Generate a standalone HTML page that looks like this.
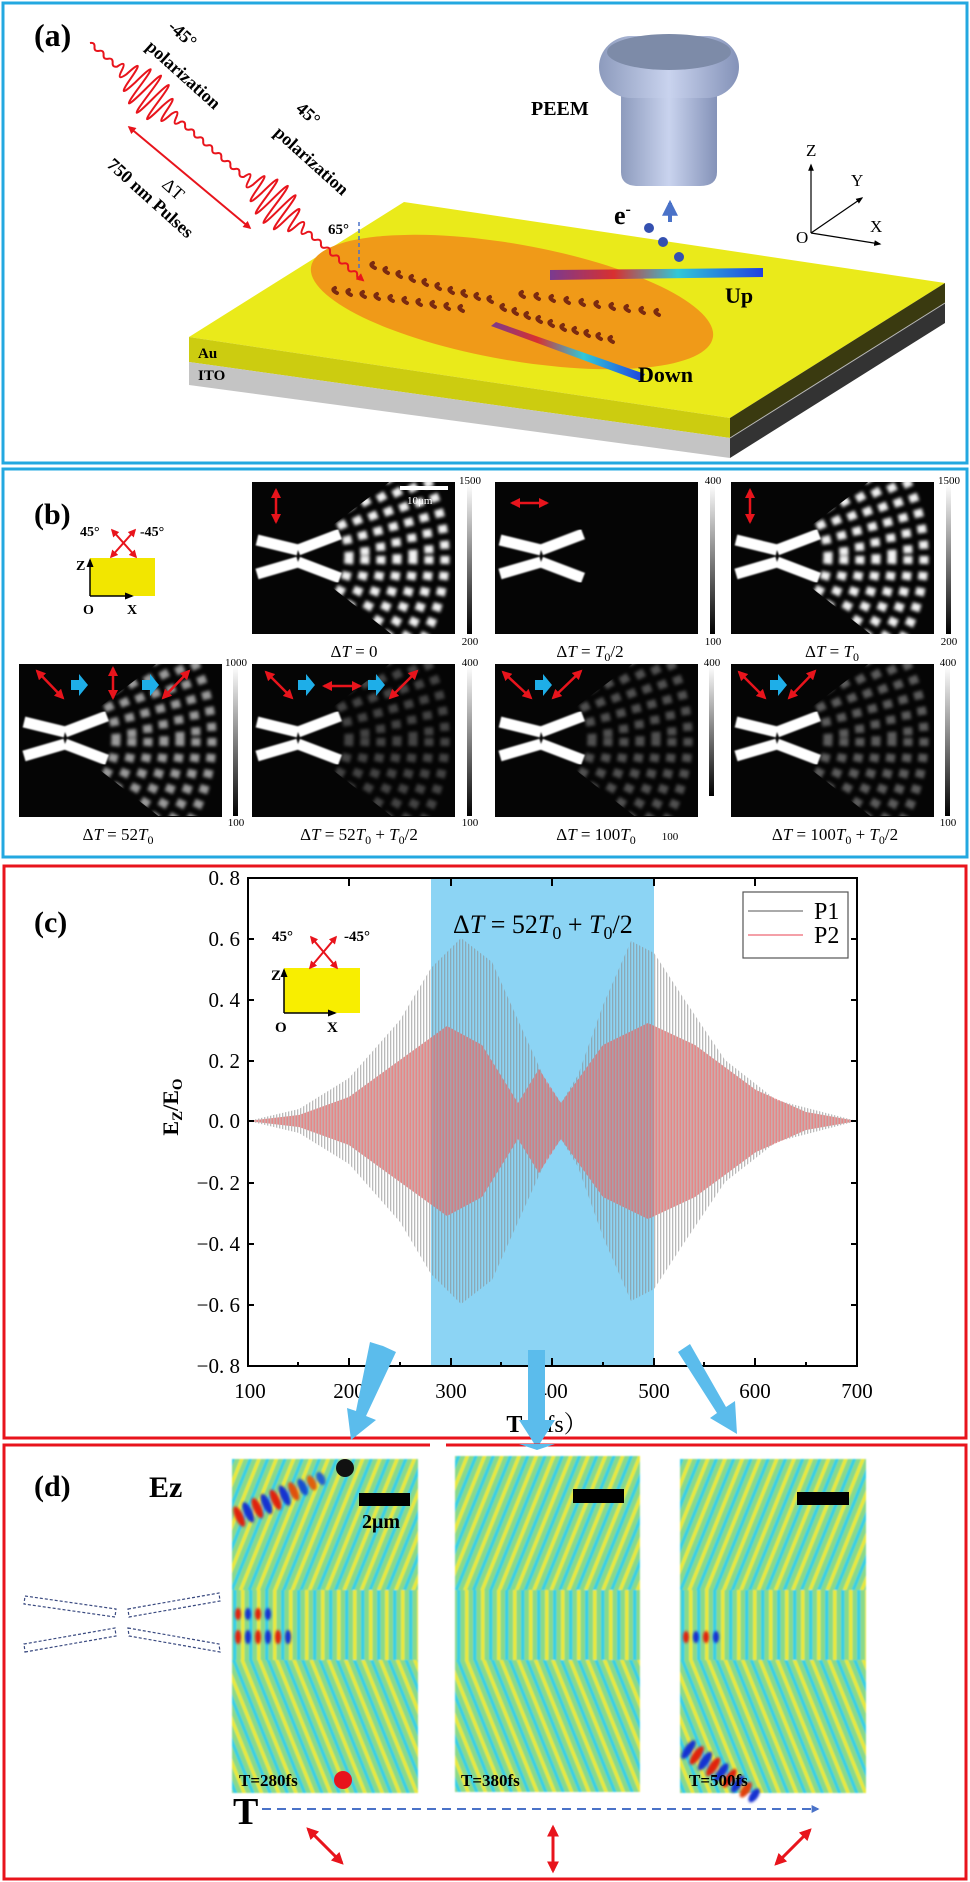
<!DOCTYPE html>
<html><head><meta charset="utf-8"><style>
html,body{margin:0;padding:0;background:#fff;}
svg{display:block;}
</style></head><body>
<svg width="970" height="1882" viewBox="0 0 970 1882" xmlns="http://www.w3.org/2000/svg" font-family="Liberation Serif, serif">
<defs>
<marker id="ra" viewBox="0 0 10 10" refX="8" refY="5" markerWidth="4" markerHeight="4" orient="auto-start-reverse"><path d="M0,0 L10,5 L0,10 z" fill="#e8141c"/></marker>
<marker id="ba" viewBox="0 0 10 10" refX="8" refY="5" markerWidth="4" markerHeight="4" orient="auto"><path d="M0,0 L10,5 L0,10 z" fill="#4a72c8"/></marker>
<marker id="ka" viewBox="0 0 10 10" refX="8" refY="5" markerWidth="6" markerHeight="6" orient="auto"><path d="M0,1 L10,5 L0,9 z" fill="#000"/></marker>
<linearGradient id="cb" x1="0" y1="0" x2="0" y2="1"><stop offset="0" stop-color="#fff"/><stop offset="1" stop-color="#000"/></linearGradient>
<linearGradient id="peem" x1="0" y1="0" x2="1" y2="0"><stop offset="0" stop-color="#8d9bbd"/><stop offset="0.5" stop-color="#c9d3ee"/><stop offset="1" stop-color="#8492b8"/></linearGradient>
<linearGradient id="rod" x1="0" y1="0" x2="1" y2="0"><stop offset="0" stop-color="#7a3a90"/><stop offset="0.3" stop-color="#d83030"/><stop offset="0.6" stop-color="#30c8d8"/><stop offset="1" stop-color="#2040e0"/></linearGradient>
<filter id="bl" x="-20%" y="-20%" width="140%" height="140%"><feGaussianBlur stdDeviation="1.6"/></filter>
<filter id="bl2"><feGaussianBlur stdDeviation="0.8"/></filter>
<filter id="bl3"><feGaussianBlur stdDeviation="1.2"/></filter>
<clipPath id="wedge"><polygon points="40,74 203,-50 203,202"/></clipPath>
<clipPath id="imgc"><rect x="0" y="0" width="203" height="152"/></clipPath>
<g id="bars">
<g stroke="#fff" stroke-width="11" filter="url(#bl2)">
<line x1="5" y1="58" x2="46" y2="68"/><line x1="46" y1="68" x2="88" y2="52"/>
<line x1="5" y1="92" x2="46" y2="80"/><line x1="46" y1="80" x2="88" y2="96"/>
</g></g>
<g id="arcs">
<g clip-path="url(#wedge)" fill="none" stroke="#fff" stroke-width="9" stroke-dasharray="8 8" filter="url(#bl)">
<circle cx="25" cy="74" r="72"/><circle cx="25" cy="74" r="88"/><circle cx="25" cy="74" r="104"/><circle cx="25" cy="74" r="120"/><circle cx="25" cy="74" r="136"/><circle cx="25" cy="74" r="152"/><circle cx="25" cy="74" r="168"/>
</g></g>
<pattern id="pg" width="3" height="10" patternUnits="userSpaceOnUse"><rect width="1.3" height="10" fill="#8c8c8c"/></pattern>
<pattern id="pp" width="3" height="10" patternUnits="userSpaceOnUse"><rect x="1.5" width="1.3" height="10" fill="#d85858"/></pattern>
<pattern id="fu" width="16" height="40" patternUnits="userSpaceOnUse" patternTransform="rotate(22)"><rect width="16" height="40" fill="#8ad98a"/><rect x="1" width="3.5" height="40" fill="#e8e83c"/><rect x="9" width="3.5" height="40" fill="#38d0e4"/></pattern>
<pattern id="fm" width="16" height="40" patternUnits="userSpaceOnUse"><rect width="16" height="40" fill="#8ad98a"/><rect x="1" width="3.5" height="40" fill="#e8e83c"/><rect x="9" width="3.5" height="40" fill="#38d0e4"/></pattern>
<pattern id="fd" width="16" height="40" patternUnits="userSpaceOnUse" patternTransform="rotate(-22)"><rect width="16" height="40" fill="#8ad98a"/><rect x="1" width="3.5" height="40" fill="#e8e83c"/><rect x="9" width="3.5" height="40" fill="#38d0e4"/></pattern>
</defs>

<!-- ================= PANEL A ================= -->
<rect x="3" y="3" width="964" height="460" fill="#fff" stroke="#23a8e0" stroke-width="3"/>
<text x="34" y="46" font-size="32" font-weight="bold">(a)</text>
<polygon points="404,202 945,283 730,418 189,337" fill="#eaea1a"/>
<polygon points="189,337 730,418 730,438 189,362" fill="#cccc10"/>
<polygon points="189,362 730,438 730,458 189,385" fill="#c4c4c4"/>
<polygon points="730,418 945,283 945,303 730,438" fill="#3a3a10"/>
<polygon points="730,438 945,303 945,323 730,458" fill="#333"/>
<line x1="730" y1="438" x2="945" y2="303" stroke="#bbb" stroke-width="1"/>
<text x="198" y="358" font-size="15" font-weight="bold">Au</text>
<text x="198" y="380" font-size="15" font-weight="bold">ITO</text>
<ellipse cx="512" cy="302" rx="204" ry="58" fill="#f09a18" transform="rotate(10 512 302)"/>
<g fill="none" stroke="#7a2a10" stroke-width="4" stroke-linecap="round">
<path d="M373,263 q-4,2 2,5 M386,268 q-4,2 2,5 M399,272 q-4,2 2,5 M412,276 q-4,2 2,5 M425,280 q-4,2 2,5 M438,284 q-4,2 2,5 M451,288 q-4,2 2,5 M464,291 q-4,2 2,5 M477,294 q-4,2 2,5 M490,297 q-4,2 2,5"/>
<path d="M335,288 q-4,2 2,5 M349,290 q-4,2 2,5 M363,292 q-4,2 2,5 M377,294 q-4,2 2,5 M391,296 q-4,2 2,5 M405,298 q-4,2 2,5 M419,300 q-4,2 2,5 M433,302 q-4,2 2,5 M447,304 q-4,2 2,5 M461,306 q-4,2 2,5"/>
<path d="M522,292 q-4,2 2,5 M537,294 q-4,2 2,5 M552,296 q-4,2 2,5 M567,298 q-4,2 2,5 M582,300 q-4,2 2,5 M597,302 q-4,2 2,5 M612,304 q-4,2 2,5 M627,306 q-4,2 2,5 M642,308 q-4,2 2,5 M657,310 q-4,2 2,5"/>
<path d="M503,305 q-4,2 2,5 M515,309 q-4,2 2,5 M527,313 q-4,2 2,5 M539,317 q-4,2 2,5 M551,321 q-4,2 2,5 M563,325 q-4,2 2,5 M575,328 q-4,2 2,5 M587,331 q-4,2 2,5 M599,334 q-4,2 2,5 M611,337 q-4,2 2,5"/>
</g>
<polygon points="550,270 763,268 763,277 550,280" fill="url(#rod)"/>
<polygon points="491,326 496,322 645,374 640,381" fill="url(#rod)"/>
<text x="725" y="303" font-size="22" font-weight="bold">Up</text>
<text x="638" y="382" font-size="22" font-weight="bold">Down</text>
<path d="M621,92 L717,92 L717,172 Q717,186 700,186 L638,186 Q621,186 621,172 Z" fill="url(#peem)"/>
<rect x="599" y="36" width="140" height="62" rx="32" fill="url(#peem)"/>
<ellipse cx="669" cy="52" rx="62" ry="18" fill="#7d8ba8"/>
<text x="531" y="115" font-size="20" font-weight="bold">PEEM</text>
<text x="614" y="224" font-size="26" font-weight="bold">e<tspan dy="-10" font-size="16">-</tspan></text>
<circle cx="649" cy="228" r="5" fill="#3450b0"/><circle cx="663" cy="242" r="5" fill="#3450b0"/><circle cx="679" cy="257" r="5" fill="#3450b0"/>
<line x1="670" y1="222" x2="670" y2="203" stroke="#4a72c8" stroke-width="4" marker-end="url(#ba)"/>
<g stroke="#000" stroke-width="1.2">
<line x1="811" y1="233" x2="811" y2="165" marker-end="url(#ka)"/>
<line x1="811" y1="233" x2="862" y2="198" marker-end="url(#ka)"/>
<line x1="811" y1="233" x2="880" y2="244" marker-end="url(#ka)"/>
</g>
<text x="806" y="156" font-size="17">Z</text><text x="851" y="186" font-size="17">Y</text><text x="870" y="232" font-size="17">X</text><text x="796" y="243" font-size="17">O</text>
<g transform="translate(90,43) rotate(41)">
<path fill="none" stroke="#e8141c" stroke-width="2" d="M0,0 q3,-4 6,0 q3,4 6,0 q3,-4 6,0 q3,4 6,0 q3,-4 6,0 q3,4 6,0 q3,-12 6,0 q3,12 6,0 q3,-28 6,0 q3,28 6,0 q3,-40 6,0 q3,40 6,0 q3,-44 6,0 q3,44 6,0 q3,-40 6,0 q3,40 6,0 q3,-24 6,0 q3,24 6,0 q3,-10 6,0 q3,10 6,0 q3,-4 6,0 q3,4 6,0 q3,-4 6,0 q3,4 6,0 q3,-4 6,0 q3,4 6,0 q3,-4 6,0 q3,4 6,0 q3,-4 6,0 q3,4 6,0 q3,-4 6,0 q3,4 6,0 q3,-4 6,0 q3,4 6,0 q3,-12 6,0 q3,12 6,0 q3,-28 6,0 q3,28 6,0 q3,-40 6,0 q3,40 6,0 q3,-44 6,0 q3,44 6,0 q3,-40 6,0 q3,40 6,0 q3,-24 6,0 q3,24 6,0 q3,-10 6,0 q3,10 6,0 q3,-4 6,0 q3,4 6,0 q3,-4 6,0 q3,4 6,0 q3,-4 6,0 q3,4 6,0 q3,-4 6,0 q3,4 6,0 q3,-4 6,0 q3,4 6,0 q3,-4 6,0 q3,4 6,0 L362,0" marker-end="url(#ra)"/>
</g>
<line x1="129" y1="127" x2="250" y2="228" stroke="#e8141c" stroke-width="2" marker-start="url(#ra)" marker-end="url(#ra)"/>
<g font-size="18" font-weight="bold">
<text transform="translate(167,28) rotate(42)">-45°</text>
<text transform="translate(145,48) rotate(42)">polarization</text>
<text transform="translate(295,110) rotate(42)">45°</text>
<text transform="translate(273,134) rotate(42)">polarization</text>
<text transform="translate(161,186) rotate(42)" font-weight="normal">ΔT</text>
<text transform="translate(106,166) rotate(42)">750 nm Pulses</text>
</g>
<text x="328" y="234" font-size="15" font-weight="bold">65°</text>
<line x1="359" y1="222" x2="359" y2="268" stroke="#4a72c8" stroke-width="1.5" stroke-dasharray="4 3"/>

<!-- ================= PANEL B ================= -->
<rect x="3" y="469" width="964" height="388" fill="#fff" stroke="#23a8e0" stroke-width="3"/>
<text x="34" y="524" font-size="30" font-weight="bold">(b)</text>
<rect x="90" y="558" width="65" height="38" fill="#f2e600"/>
<line x1="90" y1="596" x2="90" y2="560" stroke="#000" stroke-width="1.5" marker-end="url(#ka)"/>
<line x1="90" y1="596" x2="132" y2="596" stroke="#000" stroke-width="1.5" marker-end="url(#ka)"/>
<text x="76" y="570" font-size="14" font-weight="bold">Z</text><text x="83" y="614" font-size="14" font-weight="bold">O</text><text x="127" y="614" font-size="14" font-weight="bold">X</text>
<line x1="111" y1="557" x2="135" y2="530" stroke="#e8141c" stroke-width="2" marker-start="url(#ra)" marker-end="url(#ra)"/>
<line x1="136" y1="557" x2="112" y2="530" stroke="#e8141c" stroke-width="2" marker-start="url(#ra)" marker-end="url(#ra)"/>
<text x="80" y="536" font-size="14" font-weight="bold">45°</text><text x="140" y="536" font-size="14" font-weight="bold">-45°</text>

<g transform="translate(252,482)"><rect width="203" height="152" fill="#050505"/><g clip-path="url(#imgc)"><use href="#arcs" opacity="0.95"/><use href="#bars"/></g></g>
<g transform="translate(495,482)"><rect width="203" height="152" fill="#050505"/><g clip-path="url(#imgc)"><use href="#bars"/></g></g>
<g transform="translate(731,482)"><rect width="203" height="152" fill="#050505"/><g clip-path="url(#imgc)"><use href="#arcs" opacity="0.95"/><use href="#bars"/></g></g>
<g transform="translate(19,664)"><rect width="203" height="153" fill="#050505"/><g clip-path="url(#imgc)"><use href="#arcs" opacity="0.6"/><use href="#bars"/></g></g>
<g transform="translate(252,664)"><rect width="203" height="153" fill="#050505"/><g clip-path="url(#imgc)"><use href="#arcs" opacity="0.25"/><use href="#bars"/></g></g>
<g transform="translate(495,664)"><rect width="203" height="153" fill="#050505"/><g clip-path="url(#imgc)"><use href="#arcs" opacity="0.3"/><use href="#bars"/></g></g>
<g transform="translate(731,664)"><rect width="203" height="153" fill="#050505"/><g clip-path="url(#imgc)"><use href="#arcs" opacity="0.35"/><use href="#bars"/></g></g>
<g fill="url(#cb)">
<rect x="467" y="484" width="5" height="150"/><rect x="710" y="484" width="5" height="150"/><rect x="946" y="484" width="5" height="150"/>
<rect x="233" y="666" width="5" height="150"/><rect x="467" y="666" width="5" height="150"/><rect x="709" y="666" width="5" height="130"/><rect x="945" y="666" width="5" height="150"/>
</g>
<g font-size="11" text-anchor="middle">
<text x="470" y="484">1500</text><text x="470" y="645">200</text>
<text x="713" y="484">400</text><text x="713" y="645">100</text>
<text x="949" y="484">1500</text><text x="949" y="645">200</text>
<text x="236" y="666">1000</text><text x="236" y="826">100</text>
<text x="470" y="666">400</text><text x="470" y="826">100</text>
<text x="712" y="666">400</text>
<text x="948" y="666">400</text><text x="948" y="826">100</text>
<text x="670" y="840">100</text>
</g>
<rect x="400" y="486" width="48" height="4" fill="#fff"/>
<text x="407" y="504" font-size="11" fill="#fff">10μm</text>
<g stroke="#e8141c" stroke-width="2.5" fill="none">
<line x1="276" y1="490" x2="276" y2="522" marker-start="url(#ra)" marker-end="url(#ra)"/>
<line x1="512" y1="503" x2="547" y2="503" marker-start="url(#ra)" marker-end="url(#ra)"/>
<line x1="750" y1="490" x2="750" y2="522" marker-start="url(#ra)" marker-end="url(#ra)"/>
<line x1="37" y1="671" x2="63" y2="698" marker-start="url(#ra)" marker-end="url(#ra)"/>
<line x1="113" y1="668" x2="113" y2="698" marker-start="url(#ra)" marker-end="url(#ra)"/>
<line x1="163" y1="698" x2="189" y2="671" marker-start="url(#ra)" marker-end="url(#ra)"/>
<line x1="266" y1="672" x2="292" y2="698" marker-start="url(#ra)" marker-end="url(#ra)"/>
<line x1="324" y1="686" x2="360" y2="686" marker-start="url(#ra)" marker-end="url(#ra)"/>
<line x1="390" y1="698" x2="417" y2="671" marker-start="url(#ra)" marker-end="url(#ra)"/>
<line x1="503" y1="672" x2="531" y2="698" marker-start="url(#ra)" marker-end="url(#ra)"/>
<line x1="553" y1="698" x2="581" y2="671" marker-start="url(#ra)" marker-end="url(#ra)"/>
<line x1="739" y1="672" x2="765" y2="698" marker-start="url(#ra)" marker-end="url(#ra)"/>
<line x1="789" y1="698" x2="815" y2="671" marker-start="url(#ra)" marker-end="url(#ra)"/>
</g>
<g fill="#1eaee8">
<path d="M71,680 h8 v-6 l9,11 l-9,11 v-6 h-8 z"/>
<path d="M142,680 h8 v-6 l9,11 l-9,11 v-6 h-8 z"/>
<path d="M298,680 h8 v-6 l9,11 l-9,11 v-6 h-8 z"/>
<path d="M368,680 h8 v-6 l9,11 l-9,11 v-6 h-8 z"/>
<path d="M535,680 h8 v-6 l9,11 l-9,11 v-6 h-8 z"/>
<path d="M770,680 h8 v-6 l9,11 l-9,11 v-6 h-8 z"/>
</g>
<g font-size="17" text-anchor="middle">
<text x="354" y="657">Δ<tspan font-style="italic">T</tspan> = 0</text>
<text x="590" y="657">Δ<tspan font-style="italic">T</tspan> = <tspan font-style="italic">T</tspan><tspan font-size="12" dy="4">0</tspan><tspan dy="-4">/2</tspan></text>
<text x="832" y="657">Δ<tspan font-style="italic">T</tspan> = <tspan font-style="italic">T</tspan><tspan font-size="12" dy="4">0</tspan></text>
<text x="118" y="840">Δ<tspan font-style="italic">T</tspan> = 52<tspan font-style="italic">T</tspan><tspan font-size="12" dy="4">0</tspan></text>
<text x="359" y="840">Δ<tspan font-style="italic">T</tspan> = 52<tspan font-style="italic">T</tspan><tspan font-size="12" dy="4">0</tspan><tspan dy="-4"> + </tspan><tspan font-style="italic">T</tspan><tspan font-size="12" dy="4">0</tspan><tspan dy="-4">/2</tspan></text>
<text x="596" y="840">Δ<tspan font-style="italic">T</tspan> = 100<tspan font-style="italic">T</tspan><tspan font-size="12" dy="4">0</tspan></text>
<text x="835" y="840">Δ<tspan font-style="italic">T</tspan> = 100<tspan font-style="italic">T</tspan><tspan font-size="12" dy="4">0</tspan><tspan dy="-4"> + </tspan><tspan font-style="italic">T</tspan><tspan font-size="12" dy="4">0</tspan><tspan dy="-4">/2</tspan></text>
</g>

<!-- ================= PANEL C ================= -->
<rect x="4" y="866" width="962" height="572" fill="#fff" stroke="#e8141c" stroke-width="3"/>
<text x="34" y="932" font-size="30" font-weight="bold">(c)</text>
<rect x="431" y="878" width="223" height="488" fill="#8cd4f4"/>
<path d="M248,1121 L299,1109 L349,1078 L400,1020 L431,968 L461,938 L492,962 L522,1029 L547,1084 L561,1103 L578,1075 L603,1005 L631,941 L654,953 L684,999 L725,1060 L776,1100 L857,1121 L776,1142 L725,1182 L684,1243 L654,1289 L631,1301 L603,1237 L578,1167 L561,1139 L547,1158 L522,1213 L492,1280 L461,1304 L431,1274 L400,1222 L349,1164 L299,1133 Z" fill="url(#pg)" opacity="0.6"/>
<path d="M248,1121 L299,1115 L349,1097 L400,1060 L447,1026 L482,1045 L518,1103 L539,1069 L561,1103 L603,1045 L648,1023 L695,1045 L756,1090 L806,1112 L857,1121 L806,1130 L756,1152 L695,1197 L648,1219 L603,1197 L561,1139 L539,1173 L518,1139 L482,1197 L447,1216 L400,1182 L349,1145 L299,1127 Z" fill="url(#pp)" opacity="0.9"/>
<path d="M248,1121 L299,1115 L349,1097 L400,1060 L447,1026 L482,1045 L518,1103 L539,1069 L561,1103 L603,1045 L648,1023 L695,1045 L756,1090 L806,1112 L857,1121 L806,1130 L756,1152 L695,1197 L648,1219 L603,1197 L561,1139 L539,1173 L518,1139 L482,1197 L447,1216 L400,1182 L349,1145 L299,1127 Z" fill="#e89090" opacity="0.3"/>
<rect x="248" y="878" width="609" height="488" fill="none" stroke="#000" stroke-width="2"/>
<g stroke="#000" stroke-width="2">
<path d="M349,878v8 M451,878v8 M552,878v8 M654,878v8 M755,878v8 M349,1366v-8 M451,1366v-8 M552,1366v-8 M654,1366v-8 M755,1366v-8"/>
<path d="M298,1366v-4 M400,1366v-4 M501,1366v-4 M603,1366v-4 M704,1366v-4 M806,1366v-4"/>
<path d="M248,939h6 M248,1000h6 M248,1061h6 M248,1121h6 M248,1183h6 M248,1244h6 M248,1305h6 M857,939h-6 M857,1000h-6 M857,1061h-6 M857,1121h-6 M857,1183h-6 M857,1244h-6 M857,1305h-6"/>
</g>
<g font-size="21" text-anchor="end">
<text x="240" y="885">0. 8</text><text x="240" y="946">0. 6</text><text x="240" y="1007">0. 4</text><text x="240" y="1068">0. 2</text><text x="240" y="1128">0. 0</text><text x="240" y="1190">−0. 2</text><text x="240" y="1251">−0. 4</text><text x="240" y="1312">−0. 6</text><text x="240" y="1373">−0. 8</text>
</g>
<g font-size="21" text-anchor="middle">
<text x="250" y="1398">100</text><text x="349" y="1398">200</text><text x="451" y="1398">300</text><text x="552" y="1398">400</text><text x="654" y="1398">500</text><text x="755" y="1398">600</text><text x="857" y="1398">700</text>
</g>
<text x="547" y="1432" font-size="24" font-weight="bold" text-anchor="middle" font-family="Liberation Serif, Noto Serif CJK SC, serif">T<tspan font-weight="normal">（fs）</tspan></text>
<text transform="translate(178,1107) rotate(-90)" font-size="22" font-weight="bold" text-anchor="middle">E<tspan font-size="15" dy="4">Z</tspan><tspan dy="-4">/E</tspan><tspan font-size="15" dy="4">O</tspan></text>
<text x="453" y="933" font-size="26">Δ<tspan font-style="italic">T</tspan> = 52<tspan font-style="italic">T</tspan><tspan font-size="18" dy="6">0</tspan><tspan dy="-6"> + </tspan><tspan font-style="italic">T</tspan><tspan font-size="18" dy="6">0</tspan><tspan dy="-6">/2</tspan></text>
<rect x="743" y="892" width="105" height="66" fill="#fff" stroke="#555" stroke-width="1.2"/>
<line x1="748" y1="911" x2="803" y2="911" stroke="#aaa" stroke-width="2"/>
<line x1="748" y1="935" x2="803" y2="935" stroke="#f4a0a8" stroke-width="2"/>
<text x="814" y="919" font-size="24">P1</text><text x="814" y="943" font-size="24">P2</text>
<rect x="284" y="968" width="76" height="45" fill="#f8ee00"/>
<line x1="284" y1="1013" x2="284" y2="970" stroke="#000" stroke-width="1.5" marker-end="url(#ka)"/>
<line x1="284" y1="1013" x2="335" y2="1013" stroke="#000" stroke-width="1.5" marker-end="url(#ka)"/>
<text x="271" y="980" font-size="15" font-weight="bold">Z</text><text x="275" y="1032" font-size="15" font-weight="bold">O</text><text x="327" y="1032" font-size="15" font-weight="bold">X</text>
<line x1="310" y1="968" x2="336" y2="937" stroke="#e8141c" stroke-width="2" marker-start="url(#ra)" marker-end="url(#ra)"/>
<line x1="337" y1="968" x2="311" y2="937" stroke="#e8141c" stroke-width="2" marker-start="url(#ra)" marker-end="url(#ra)"/>
<text x="272" y="941" font-size="15" font-weight="bold">45°</text><text x="344" y="941" font-size="15" font-weight="bold">-45°</text>

<g fill="#5bbcec">
<polygon points="383,1346 396,1352 366,1416 376,1420 351,1440 347,1408 356,1411 370,1342"/>
<polygon points="528,1350 545,1350 545,1420 555,1420 537,1448 519,1420 528,1420"/>
<polygon points="678,1352 690,1344 726,1407 735,1401 737,1434 710,1418 717,1413"/>
</g>

<!-- ================= PANEL D ================= -->
<rect x="4" y="1445" width="962" height="434" fill="#fff" stroke="#e8141c" stroke-width="3"/>
<rect x="430" y="1443" width="16" height="5" fill="#fff"/>
<polygon points="519,1444 555,1444 537,1450" fill="#5bbcec"/>
<text x="34" y="1496" font-size="30" font-weight="bold">(d)</text>
<text x="149" y="1497" font-size="30" font-weight="bold">Ez</text>
<g filter="url(#bl2)">
<rect x="232" y="1459" width="186" height="131" fill="url(#fu)"/><rect x="232" y="1590" width="186" height="70" fill="url(#fm)"/><rect x="232" y="1660" width="186" height="133" fill="url(#fd)"/>
<rect x="455" y="1456" width="185" height="134" fill="url(#fu)"/><rect x="455" y="1590" width="185" height="70" fill="url(#fm)"/><rect x="455" y="1660" width="185" height="132" fill="url(#fd)"/>
<rect x="680" y="1459" width="186" height="131" fill="url(#fu)"/><rect x="680" y="1590" width="186" height="70" fill="url(#fm)"/><rect x="680" y="1660" width="186" height="133" fill="url(#fd)"/>
</g>
<g filter="url(#bl3)">
<g transform="translate(232,1520) rotate(-25)">
<ellipse cx="8" cy="0" rx="4" ry="11" fill="#e02010"/><ellipse cx="18" cy="0" rx="4" ry="11" fill="#1830d0"/><ellipse cx="28" cy="0" rx="4" ry="11" fill="#e02010"/><ellipse cx="38" cy="0" rx="4" ry="11" fill="#1830d0"/><ellipse cx="48" cy="0" rx="4" ry="11" fill="#e02010"/><ellipse cx="58" cy="0" rx="4" ry="11" fill="#1830d0"/><ellipse cx="68" cy="0" rx="4" ry="10" fill="#e05010"/><ellipse cx="78" cy="0" rx="4" ry="9" fill="#1850d0"/><ellipse cx="88" cy="0" rx="4" ry="8" fill="#e06010"/><ellipse cx="98" cy="0" rx="4" ry="7" fill="#2060d0"/>
</g>
<g transform="translate(682,1745) rotate(35)">
<ellipse cx="8" cy="0" rx="4" ry="11" fill="#1830d0"/><ellipse cx="18" cy="0" rx="4" ry="11" fill="#e02010"/><ellipse cx="28" cy="0" rx="4" ry="11" fill="#1830d0"/><ellipse cx="38" cy="0" rx="4" ry="11" fill="#e02010"/><ellipse cx="48" cy="0" rx="4" ry="11" fill="#1830d0"/><ellipse cx="58" cy="0" rx="4" ry="11" fill="#e02010"/><ellipse cx="68" cy="0" rx="4" ry="10" fill="#1830d0"/><ellipse cx="78" cy="0" rx="4" ry="9" fill="#e04010"/><ellipse cx="88" cy="0" rx="4" ry="8" fill="#1830d0"/>
</g>
<g>
<ellipse cx="238" cy="1614" rx="3" ry="6" fill="#e02010"/><ellipse cx="248" cy="1614" rx="3" ry="6" fill="#1830d0"/><ellipse cx="258" cy="1614" rx="3" ry="6" fill="#e02010"/><ellipse cx="268" cy="1614" rx="3" ry="6" fill="#1830d0"/>
<ellipse cx="238" cy="1637" rx="3" ry="7" fill="#e02010"/><ellipse cx="248" cy="1637" rx="3" ry="7" fill="#1830d0"/><ellipse cx="258" cy="1637" rx="3" ry="7" fill="#e02010"/><ellipse cx="268" cy="1637" rx="3" ry="7" fill="#1830d0"/><ellipse cx="278" cy="1637" rx="3" ry="7" fill="#e02010"/><ellipse cx="288" cy="1637" rx="3" ry="7" fill="#1830d0"/>
<ellipse cx="686" cy="1637" rx="3" ry="6" fill="#e02010"/><ellipse cx="696" cy="1637" rx="3" ry="6" fill="#1830d0"/><ellipse cx="706" cy="1637" rx="3" ry="6" fill="#e02010"/><ellipse cx="716" cy="1637" rx="3" ry="6" fill="#1830d0"/>
</g>
</g>
<rect x="359" y="1493" width="51" height="13" fill="#000"/>
<rect x="573" y="1489" width="51" height="14" fill="#000"/>
<rect x="797" y="1492" width="52" height="13" fill="#000"/>
<text x="362" y="1528" font-size="20" font-weight="bold">2μm</text>
<circle cx="345" cy="1468" r="9" fill="#111"/>
<circle cx="343" cy="1780" r="9" fill="#e8141c"/>
<g font-size="17" font-weight="bold">
<text x="239" y="1786">T=280fs</text><text x="461" y="1786">T=380fs</text><text x="689" y="1786">T=500fs</text>
</g>
<text x="233" y="1824" font-size="38" font-weight="bold">T</text>
<line x1="262" y1="1809" x2="818" y2="1809" stroke="#4a72c8" stroke-width="2" stroke-dasharray="9 6" marker-end="url(#ba)"/>
<g stroke="#e8141c" stroke-width="3">
<line x1="308" y1="1829" x2="342" y2="1863" marker-start="url(#ra)" marker-end="url(#ra)"/>
<line x1="553" y1="1827" x2="553" y2="1871" marker-start="url(#ra)" marker-end="url(#ra)"/>
<line x1="810" y1="1830" x2="776" y2="1864" marker-start="url(#ra)" marker-end="url(#ra)"/>
</g>
<g fill="none" stroke="#3a4a80" stroke-width="1.2" stroke-dasharray="3 2">
<polygon points="25,1596 116,1609 115,1617 24,1604"/>
<polygon points="128,1609 219,1593 220,1601 129,1617"/>
<polygon points="25,1652 116,1636 115,1628 24,1644"/>
<polygon points="128,1628 219,1644 220,1652 129,1636"/>
</g>
</svg>
</body></html>
